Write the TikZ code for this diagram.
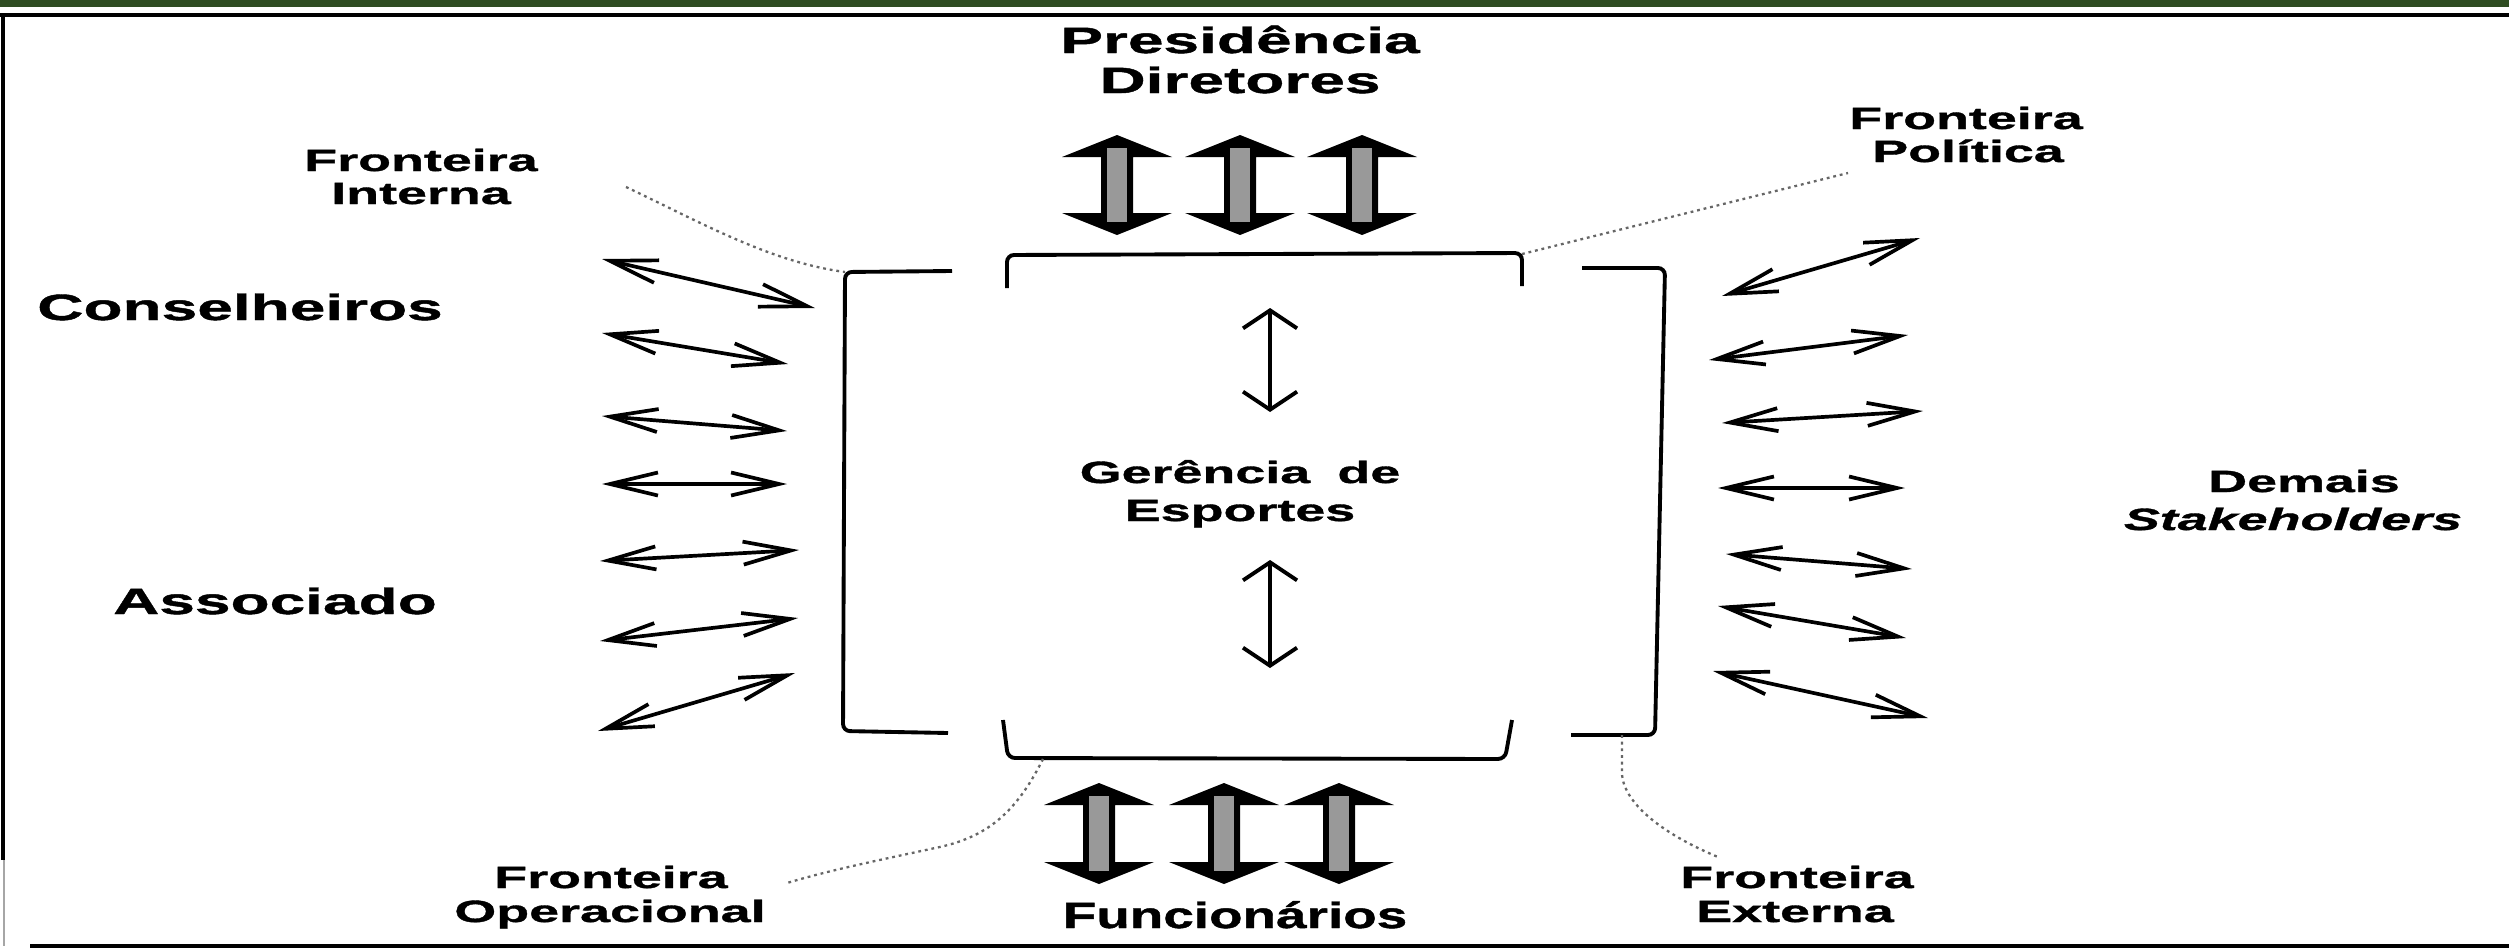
\documentclass[tikz,border=0pt]{standalone}
\usepackage{fontspec}
\newfontfamily\lbl{Liberation Sans}[FakeStretch=1.75, FakeBold=1.2]
\newfontfamily\lbln{Liberation Sans}[FakeStretch=1.5, FakeBold=1.2]
\usetikzlibrary{arrows.meta}
\definecolor{topgreen}{RGB}{47,77,34}
\newcommand\bigarrow[3]{% cx, top tip, bottom tip
  \fill[black] (#1,#2) -- (#1+55,#2+22) -- (#1+16,#2+22) -- (#1+16,#3-22) -- (#1+55,#3-22) -- (#1,#3)
    -- (#1-55,#3-22) -- (#1-16,#3-22) -- (#1-16,#2+22) -- (#1-55,#2+22) -- cycle;
  \fill[black!40] (#1-10,#2+13) rectangle (#1+10,#3-13);
}
\begin{document}
\begin{tikzpicture}[x=0.01cm,y=-0.01cm,
  big/.style={font=\lbl\bfseries\fontsize{10.4}{12}\selectfont, inner sep=0pt, anchor=base},
  small/.style={font=\lbl\bfseries\fontsize{8.75}{10}\selectfont, inner sep=0pt, anchor=base},
  bracket/.style={line width=1.1pt, rounded corners=0.07cm},
  dots/.style={black!60, line width=0.65pt, dash pattern=on 0.8pt off 1.1pt},
  dblarrow/.style={line width=1.05pt, {Straight Barb[length=4.8mm,width=2.3mm]}-{Straight Barb[length=4.8mm,width=2.3mm]}},
  vdbl/.style={line width=1.1pt, {Straight Barb[length=1.8mm,width=5.4mm]}-{Straight Barb[length=1.8mm,width=5.4mm]}},
]
\useasboundingbox (0,0) rectangle (2509,951);
\fill[white] (0,0) rectangle (2509,951);
\fill[topgreen] (0,0) rectangle (2509,7);
\draw[line width=1.1pt] (0,15) -- (2509,15);
\draw[line width=1.1pt] (3,15) -- (3,860);
\draw[line width=0.8pt, black!35] (4,860) -- (4,946);
\draw[line width=1.1pt] (30,946) -- (2509,946);

% labels
\node[big] (presA) at (1240,53) {Presidência};
\node[big] (presB) at (1240,93) {Diretores};
\node[big, font=\lbln\bfseries\fontsize{10.4}{12}\selectfont] (func) at (1235,928) {Funcionários};
\node[big] (cons) at (240,320) {Conselheiros};
\node[big] (assoc) at (275,614) {Associado};
\node[small] (intA) at (421,171) {Fronteira};
\node[small] (intB) at (421,204) {Interna};
\node[small] (polA) at (1966,129) {Fronteira};
\node[small] (polB) at (1968,162) {Política};
\node[small] (opA) at (611,888) {Fronteira};
\node[small] (opB) at (610,922) {Operacional};
\node[small] (extA) at (1797,888) {Fronteira};
\node[small] (extB) at (1795,922) {Externa};
\node[small] (gerA) at (1240,483) {Gerência\hspace{0.4em} de};
\node[small] (gerB) at (1240,521) {Esportes};
\node[small] (demA) at (2304,492) {Demais};
\node[small,font=\lbl\bfseries\itshape\fontsize{8.75}{10}\selectfont] (demB) at (2293,530) {Stakeholders};

% thick arrows
\bigarrow{1117}{135}{235}
\bigarrow{1240}{135}{235}
\bigarrow{1362}{135}{235}
\bigarrow{1099}{783}{884}
\bigarrow{1224}{783}{884}
\bigarrow{1339}{783}{884}

% brackets
\coordinate (olT) at (845,272);
\coordinate (inTR) at (1522,254);
\coordinate (inBL) at (1043,759);
\coordinate (orB) at (1622,735);
\draw[bracket] (952,271) -- (845,272) -- (843,731) -- (948,733);
\draw[bracket] (1007,288) -- (1007,255) -- (1522,253) -- (1522,286);
\draw[bracket] (1003,720) -- (1008,758) -- (1505,759) -- (1512,720);
\draw[bracket] (1582,268) -- (1665,268) -- (1655,735) -- (1571,735);

% dotted leaders
\coordinate (intE) at (626,187);
\coordinate (polE) at (1848,173);
\coordinate (opE) at (787,883);
\coordinate (extE) at (1718,857);
\draw[dots] (intE) .. controls (700,222) and (770,262) .. (olT);
\draw[dots] (inTR) -- (polE);
\draw[dots] (inBL) .. controls (1015,815) and (985,838) .. (935,848) .. controls (880,860) and (830,870) .. (opE);
\draw[dots] (orB) -- (1622,775) .. controls (1625,805) and (1665,835) .. (extE);

% small arrows left
\foreach \i/\ax/\ay/\bx/\by in {1/602/259/815/308, 2/602/333/788/364, 3/602/416/787/431, 4/602/484/787/484,
  5/600/561/799/550, 6/600/641/798/618, 7/598/731/795/673}{
  \coordinate (La\i) at (\ax,\ay);
  \coordinate (Lb\i) at (\bx,\by);
  \draw[dblarrow] (La\i) -- (Lb\i);
}
% small arrows right
\foreach \i/\ax/\ay/\bx/\by in {1/1722/296/1920/238, 2/1709/360/1908/335, 3/1722/423/1923/411, 4/1718/488/1905/488,
  5/1726/554/1912/569, 6/1718/606/1906/638, 7/1713/671/1928/718}{
  \coordinate (Ra\i) at (\ax,\ay);
  \coordinate (Rb\i) at (\bx,\by);
  \draw[dblarrow] (Ra\i) -- (Rb\i);
}
% centre arrows
\coordinate (cA1) at (1270,308);
\coordinate (cA2) at (1270,412);
\coordinate (cB1) at (1270,560);
\coordinate (cB2) at (1270,668);
\draw[vdbl] (cA1) -- (cA2);
\draw[vdbl] (cB1) -- (cB2);
\end{tikzpicture}
\end{document}
